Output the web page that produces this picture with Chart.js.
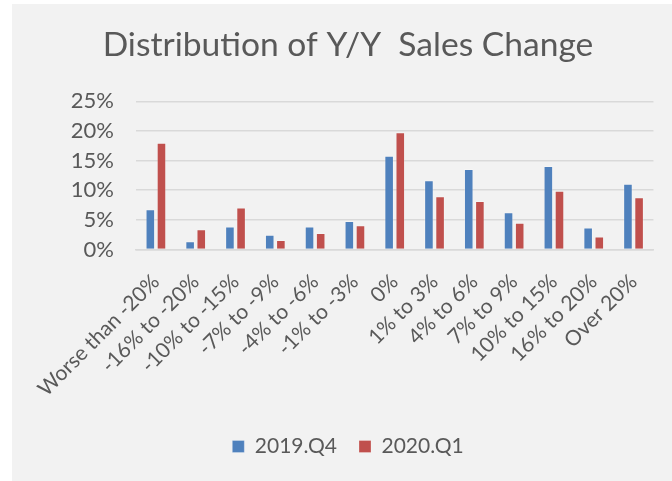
<!DOCTYPE html>
<html>
<head>
<meta charset="utf-8">
<script src="https://cdn.jsdelivr.net/npm/chart.js@4"></script>
<style>
  html, body { margin: 0; padding: 0; background: #ffffff; }
  #box {
    position: absolute;
    left: 12px; top: 4px;
    width: 660px; height: 477px;
    background: #f2f2f2;
  }
</style>
</head>
<body>
<div id="box"><canvas id="salesChart" width="660" height="477"></canvas></div>
<script>
// categories and series values (share of stores, %)
const categories = ['Worse than -20%', '-16% to -20%', '-10% to -15%', '-7% to -9%', '-4% to -6%',
    '-1% to -3%', '0%', '1% to 3%', '4% to 6%', '7% to 9%', '10% to 15%', '16% to 20%', 'Over 20%'];
const q4_2019 = [6.8, 1.4, 3.9, 2.5, 3.9, 4.8, 15.8, 11.7, 13.6, 6.3, 14.1, 3.7, 11.1];
const q1_2020 = [18.0, 3.4, 7.1, 1.6, 2.8, 4.1, 19.8, 9.0, 8.2, 4.5, 9.9, 2.2, 8.8];
const seriesNames = ['2019.Q4', '2020.Q1'];
const yTicks = [0, 5, 10, 15, 20, 25];

const fontName = 'Lato';
const textColor = '#595959';

let ctx = document.getElementById('salesChart').getContext('2d');
let salesChart = new Chart(ctx, {
    type: 'bar',
    data: {
        labels: categories,
        datasets: [{
            label: seriesNames[0],
            data: q4_2019,
            backgroundColor: '#4f81bd',
            borderColor: 'rgba(255,255,255,0.25)',
            borderWidth: 1,
            categoryPercentage: 0.56,
            barPercentage: 0.86
        }, {
            label: seriesNames[1],
            data: q1_2020,
            backgroundColor: '#c0504d',
            borderColor: 'rgba(255,255,255,0.25)',
            borderWidth: 1,
            categoryPercentage: 0.56,
            barPercentage: 0.86
        }]
    },
    options: {
        responsive: false,
        animation: false,
        layout: {
            padding: { left: 29, right: 17, top: 0, bottom: 14 }
        },
        scales: {
            y: {
                min: 0,
                max: 25,
                afterBuildTicks: function (axis) {
                    axis.ticks = yTicks.map(v => ({ value: v }));
                },
                afterFit: function (axis) {
                    axis.width = 95;
                },
                ticks: {
                    color: textColor,
                    font: { family: fontName, size: 22 },
                    padding: 22,
                    callback: function (value) {
                        return value + '%';
                    }
                },
                grid: {
                    color: '#d9d9d9',
                    lineWidth: 1.5,
                    drawTicks: false
                },
                border: { display: false }
            },
            x: {
                afterFit: function (axis) {
                    axis.height = 164.5;
                },
                ticks: {
                    color: textColor,
                    font: { family: fontName, size: 21 },
                    minRotation: 45,
                    maxRotation: 45,
                    autoSkip: false,
                    padding: 20
                },
                grid: { display: false, drawTicks: false },
                border: { display: true, color: '#d9d9d9', width: 1.5 }
            }
        },
        plugins: {
            title: {
                display: true,
                text: 'Distribution of Y/Y  Sales Change',
                color: textColor,
                font: { family: fontName, size: 33.6, weight: 'normal' },
                padding: { top: 21, bottom: 36 }
            },
            legend: {
                position: 'bottom',
                labels: {
                    color: textColor,
                    font: { family: fontName, size: 21 },
                    boxWidth: 12,
                    boxHeight: 12,
                    padding: 22
                }
            },
            tooltip: { enabled: false }
        }
    }
});
</script>
</body>
</html>
